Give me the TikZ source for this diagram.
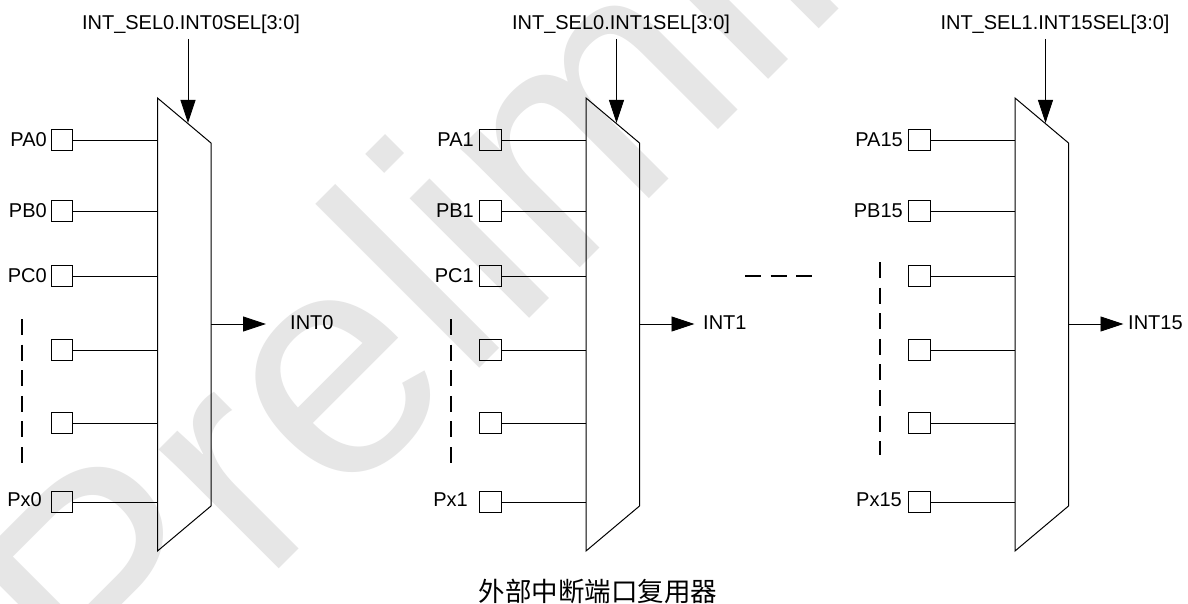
\documentclass[tikz,border=0pt]{standalone}
\usepackage{fontspec}
\setmainfont{Liberation Sans}
\newfontfamily\cjk{Noto Sans CJK SC}
\usetikzlibrary{arrows.meta}
\definecolor{wmark}{HTML}{E6E6E6}
\tikzset{
  x=1pt,y=-1pt,
  lbl/.style={inner sep=0pt,font=\fontsize{20}{22}\selectfont},
  port/.style={draw,line width=0.9pt,minimum size=21.5pt,inner sep=0pt},
  wire/.style={line width=0.9pt},
  muxbody/.style={draw,line width=1pt},
  arr/.style={line width=0.9pt,-{Triangle[length=23pt,width=15pt]}},
  dashline/.style={line width=1.8pt,dash pattern=on 16pt off 9.6pt},
}
\newcommand{\muxunit}[5]{%
  % #1 prefix, #2 mux left x, #3 sel text, #4 sel label centre x, #5 output label left x and text handled by caller
  \coordinate (#1tl) at (#2,98);
  \coordinate (#1tr) at ({#2+53.5},143);
  \coordinate (#1br) at ({#2+53.5},506);
  \coordinate (#1bl) at (#2,551);
  \draw[muxbody] (#1tl) -- (#1tr) -- (#1br) -- (#1bl) -- cycle;
  \node[lbl] (#1sel) at (#4,24) {#3};
  \coordinate (#1selS) at ({#2+30.5},39);
  \coordinate (#1selE) at ({#2+30.5},123);
  \draw[arr] (#1selS) -- (#1selE);
  \coordinate (#1oS) at ({#2+53.5},324);
  \coordinate (#1oE) at ({#2+108.5},324);
  \draw[arr] (#1oS) -- (#1oE);
  \node[lbl,anchor=west] (#1out) at #5;
  \foreach \n/\yy in {a/140,b/211,c/276,d/350,e/423,f/502}{
    \node[port] (#1box\n) at ({#2-95.5},\yy) {};
    \coordinate (#1in\n) at (#2,\yy);
    \draw[wire] (#1box\n.east) -- (#1in\n);
  }
}
\begin{document}
\begin{tikzpicture}
\useasboundingbox (0,0) rectangle (1188,604);
\fill[white] (0,0) rectangle (1188,604);
\begin{scope}
\clip (0,0) rectangle (1188,604);
\node[rotate=45,anchor=base west,inner sep=0pt,text=wmark,font=\fontsize{320}{320}\selectfont] (wm) at (112,736) {Preliminary};
\end{scope}
\muxunit{m}{157.5}{INT\_SEL0.INT0SEL[3:0]}{191}{(290,323) {INT0}}
\muxunit{n}{586}{INT\_SEL0.INT1SEL[3:0]}{621}{(703,323) {INT1}}
\muxunit{p}{1015}{INT\_SEL1.INT15SEL[3:0]}{1055}{(1128,323) {INT15}}
\node[lbl,anchor=east] (ma) at (47,140) {PA0};
\node[lbl,anchor=east] (mb) at (47,211) {PB0};
\node[lbl,anchor=east] (mc) at (47,276) {PC0};
\node[lbl,anchor=east] (mf) at (42,500) {Px0};
\node[lbl,anchor=east] (na) at (474,140) {PA1};
\node[lbl,anchor=east] (nb) at (474,211) {PB1};
\node[lbl,anchor=east] (nc) at (474,276) {PC1};
\node[lbl,anchor=east] (nf) at (468,500) {Px1};
\node[lbl,anchor=east] (pa) at (903,140) {PA15};
\node[lbl,anchor=east] (pb) at (903,211) {PB15};
\node[lbl,anchor=east] (pf) at (902,500) {Px15};
\coordinate (d1a) at (22,319); \coordinate (d1b) at (22,464);
\coordinate (d2a) at (451,319); \coordinate (d2b) at (451,464);
\coordinate (d3a) at (880,262); \coordinate (d3b) at (880,455);
\coordinate (d4a) at (745,276); \coordinate (d4b) at (812,276);
\draw[dashline] (d1a) -- (d1b);
\draw[dashline] (d2a) -- (d2b);
\draw[dashline] (d3a) -- (d3b);
\draw[dashline] (d4a) -- (d4b);
\node[inner sep=0pt,font=\cjk\fontsize{26.5}{28}\selectfont] (cap) at (598,591) {外部中断端口复用器};
\end{tikzpicture}
\end{document}
